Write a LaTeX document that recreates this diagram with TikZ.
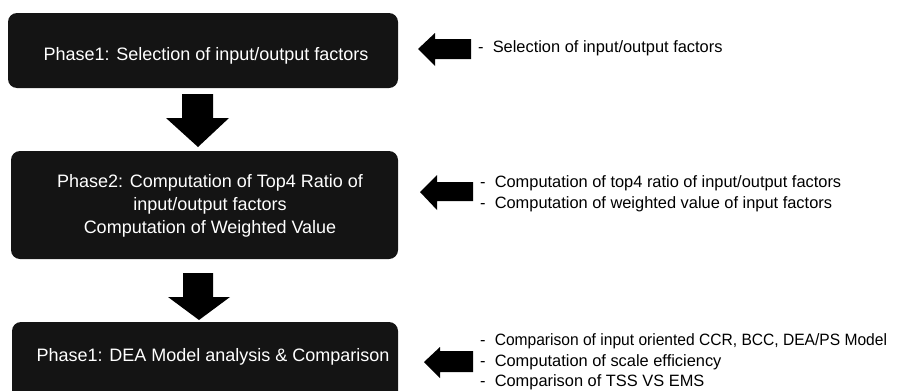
\documentclass[tikz,border=0pt]{standalone}
\usepackage{fontspec}
\setmainfont{Liberation Sans}
\begin{document}
\begin{tikzpicture}[x=1pt,y=-1pt,
  phasebox/.style={fill=black!92, rounded corners=9pt},
  phasetext/.style={text=white, font=\fontsize{18}{23}\selectfont, align=center, inner sep=0pt},
  blockarrow/.style={fill=black},
  notetext/.style={anchor=west, font=\fontsize{16.4}{20.5}\selectfont, align=left, inner sep=0pt}]
\useasboundingbox (0,0) rectangle (900,391);
% boxes
\fill[phasebox] (8,13) rectangle (398,88);
\node[phasetext] (p1) at (206,56) {Phase1: Selection of input/output factors};
\fill[phasebox] (11,151) rectangle (398,259);
\node[phasetext] (p2) at (210,206) {Phase2: Computation of Top4 Ratio of\\input/output factors\\Computation of Weighted Value};
\begin{scope}
\clip (0,0) rectangle (900,391);
\fill[phasebox] (12,322) rectangle (398,400);
\end{scope}
\node[phasetext] (p3) at (213,357) {Phase1: DEA Model analysis \& Comparison};
% down arrows
\fill[blockarrow] (182,94) -- (213,94) -- (213,118) -- (229,118) -- (198,147) -- (166,118) -- (182,118) -- cycle;
\fill[blockarrow] (183,273) -- (213,273) -- (213,297) -- (230,297) -- (199,320) -- (168,297) -- (183,297) -- cycle;
% left arrows
\fill[blockarrow] (418,49) -- (435,33) -- (435,39) -- (471,39) -- (471,59) -- (435,59) -- (435,66) -- cycle;
\fill[blockarrow] (420,192) -- (437,175) -- (437,182) -- (473,182) -- (473,201) -- (437,201) -- (437,210) -- cycle;
\fill[blockarrow] (424,362) -- (440,347) -- (440,351) -- (473,351) -- (473,372) -- (440,372) -- (440,378) -- cycle;
% notes
\node[notetext] (n1) at (478,48) {-\ \ Selection of input/output factors};
\node[notetext] (n2) at (480,194) {-\ \ Computation of top4 ratio of input/output factors\\-\ \ Computation of weighted value of input factors};
\node[notetext] (n3) at (480,362) {-\ \ \scalebox{0.95}[1]{Comparison of input oriented CCR, BCC, DEA/PS Model}\\-\ \ Computation of scale efficiency\\-\ \ Comparison of TSS VS EMS};
\end{tikzpicture}
\end{document}
